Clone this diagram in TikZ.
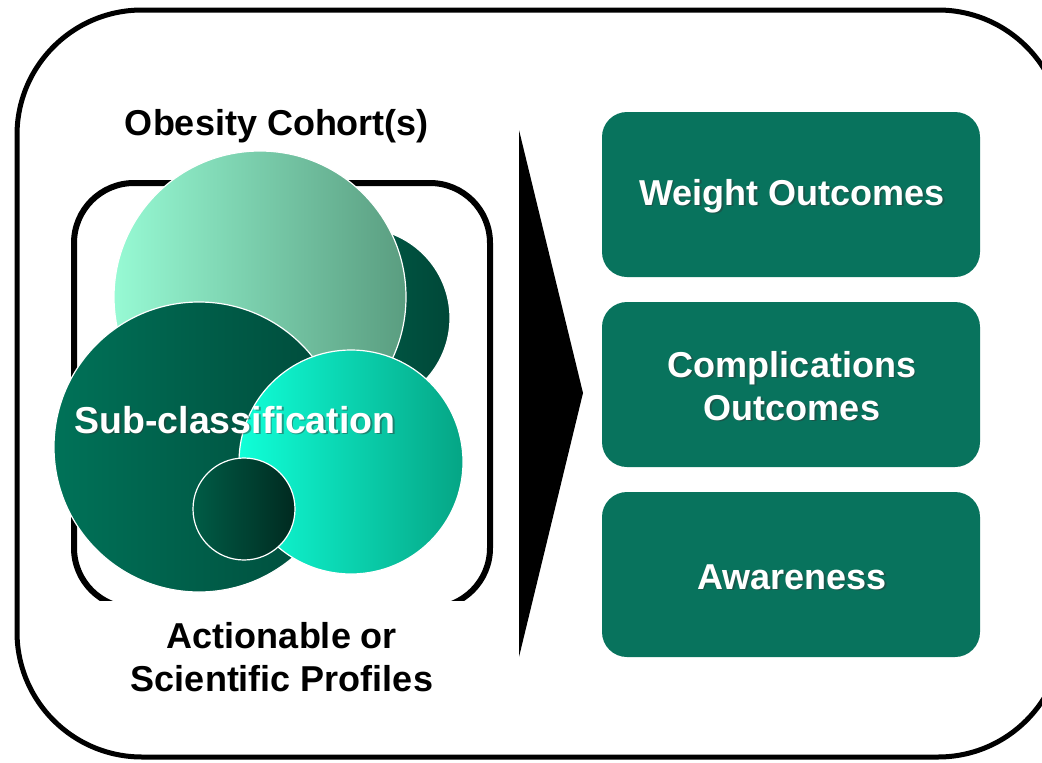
\documentclass[tikz,border=0pt]{standalone}
\usepackage{fontspec}
\setmainfont{Liberation Sans}
\definecolor{boxgreen}{HTML}{08735D}
\definecolor{lightL}{HTML}{97FAD4}
\definecolor{lightR}{HTML}{5A9D80}
\definecolor{backL}{HTML}{006B55}
\definecolor{backR}{HTML}{004838}
\definecolor{darkL}{HTML}{007258}
\definecolor{darkR}{HTML}{004A3A}
\definecolor{tealL}{HTML}{10FFD8}
\definecolor{tealR}{HTML}{05A585}
\definecolor{smallL}{HTML}{005C46}
\definecolor{smallR}{HTML}{002A20}
\newcommand\wlabel[4]{%
  \node[wlbl, font=\fontsize{#4}{43}\selectfont\bfseries, text=black!80, opacity=0.45, xshift=1.5pt, yshift=-1.5pt] at (#2) {#3};
  \node[wlbl, font=\fontsize{#4}{43}\selectfont\bfseries] (#1) at (#2) {#3};}
\begin{document}
\begin{tikzpicture}[x=1pt,y=-1pt,
  lbl/.style={font=\fontsize{36}{43}\selectfont\bfseries, align=center, inner sep=0},
  wlbl/.style={align=center, inner sep=0, text=white},
  outbox/.style={fill=boxgreen, rounded corners=25pt, minimum width=378pt, minimum height=165pt, inner sep=0},
  blob/.style={circle, draw=white, line width=1.2pt, inner sep=0}]
\useasboundingbox (0,0) rectangle (1042,763);
% outer frame
\begin{scope}
\clip (0,0) rectangle (1042,763);
\draw[line width=5pt, rounded corners=125pt] (17,10) rectangle (1063,757);
\end{scope}
% inner frame (bottom edge hidden)
\begin{scope}
\clip (0,0) rectangle (1042,600);
\draw[line width=6pt, rounded corners=60pt] (74,183) rectangle (490,608);
\end{scope}
% circles
\node[blob, minimum size=180pt, left color=backL, right color=backR] (c2) at (360,318) {};
\node[blob, minimum size=292pt, left color=lightL, right color=lightR] (c1) at (260,297) {};
\node[blob, minimum size=290pt, left color=darkL, right color=darkR] (c3) at (199,447) {};
\node[blob, minimum size=224pt, left color=tealL, right color=tealR] (c4) at (351,462) {};
\node[blob, minimum size=102pt, left color=smallL, right color=smallR] (c5) at (244,509) {};
\wlabel{sub}{235,420}{Sub-classification}{37.5}
% left labels
\node[lbl] (coh) at (277,126) {Obesity Cohort(s)};
\node[lbl] (prof) at (282,657) {Actionable or\\Scientific Profiles};
% arrow
\coordinate (a1) at (519,130);
\coordinate (a2) at (583,393);
\coordinate (a3) at (519,657);
\fill (a1) -- (a2) -- (a3) -- cycle;
% outcome boxes
\node[outbox] (b1) at (791,194.5) {};
\node[outbox] (b2) at (791,384.5) {};
\node[outbox] (b3) at (791,574.5) {};
\wlabel{t1}{792,196}{Weight Outcomes}{36}
\wlabel{t2}{792,386}{Complications\\Outcomes}{36}
\wlabel{t3}{792,577}{Awareness}{36}
\end{tikzpicture}
\end{document}
